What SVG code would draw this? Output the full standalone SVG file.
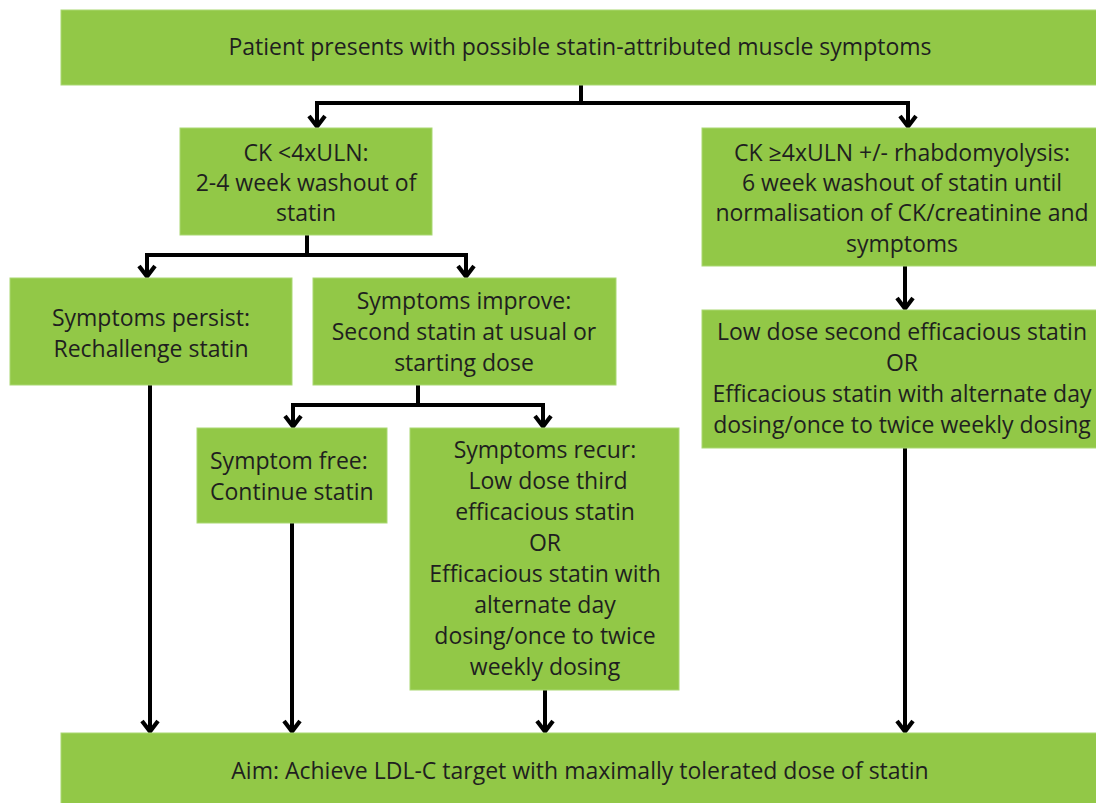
<svg xmlns="http://www.w3.org/2000/svg" width="1096" height="803" viewBox="0 0 1096 803">
<style>
.box{fill:#92C847;stroke:#A9D873;stroke-width:1}
text{font-family:"Open Sans","Noto Sans",sans-serif;font-size:23px;fill:#1f1f1f;text-anchor:middle}
.l{text-anchor:start}
.c{fill:none;stroke:#000;stroke-width:4}
</style>
<defs>
<marker id="ah" viewBox="0 0 16 20" refX="13" refY="10" markerWidth="16" markerHeight="20" markerUnits="userSpaceOnUse" orient="auto" overflow="visible">
<path d="M2,2 L12.5,10 L2,18" fill="none" stroke="#000" stroke-width="4.2" stroke-linejoin="miter"/>
</marker>
</defs>
<rect width="1096" height="803" fill="#fff"/>
<g id="connectors">
<path class="c" d="M581,85 V103"/>
<path class="c" d="M583,103 H317 V127" marker-end="url(#ah)"/>
<path class="c" d="M579,103 H908 V127" marker-end="url(#ah)"/>
<path class="c" d="M307,235 V255"/>
<path class="c" d="M309,255 H147 V277" marker-end="url(#ah)"/>
<path class="c" d="M305,255 H466 V277" marker-end="url(#ah)"/>
<path class="c" d="M418,385 V405"/>
<path class="c" d="M420,405 H293 V427" marker-end="url(#ah)"/>
<path class="c" d="M416,405 H543 V427" marker-end="url(#ah)"/>
<path class="c" d="M905,266 V309" marker-end="url(#ah)"/>
<path class="c" d="M150,385 V732" marker-end="url(#ah)"/>
<path class="c" d="M292,523 V732" marker-end="url(#ah)"/>
<path class="c" d="M545,690 V732" marker-end="url(#ah)"/>
<path class="c" d="M905,448 V732" marker-end="url(#ah)"/>
</g>
<g id="n-start">
<rect class="box" x="61" y="10" width="1040" height="75"/>
<text x="580" y="55">Patient presents with possible statin-attributed muscle symptoms</text>
</g>
<g id="n-ck-low">
<rect class="box" x="180" y="128" width="252" height="107"/>
<text x="306" y="161">CK &lt;4xULN:</text>
<text x="306" y="191">2-4 week washout of</text>
<text x="306" y="221">statin</text>
</g>
<g id="n-ck-high">
<rect class="box" x="702" y="128" width="400" height="138"/>
<text x="902" y="161">CK ≥4xULN +/- rhabdomyolysis:</text>
<text x="902" y="191">6 week washout of statin until</text>
<text x="902" y="221">normalisation of CK/creatinine and</text>
<text x="902" y="252">symptoms</text>
</g>
<g id="n-persist">
<rect class="box" x="10" y="278" width="282" height="107"/>
<text x="151" y="326">Symptoms persist:</text>
<text x="151" y="357">Rechallenge statin</text>
</g>
<g id="n-improve">
<rect class="box" x="313" y="278" width="303" height="107"/>
<text x="464" y="309">Symptoms improve:</text>
<text x="464" y="340">Second statin at usual or</text>
<text x="464" y="371">starting dose</text>
</g>
<g id="n-free">
<rect class="box" x="197" y="428" width="190" height="95"/>
<text class="l" x="210" y="469">Symptom free:</text>
<text class="l" x="210" y="500">Continue statin</text>
</g>
<g id="n-recur">
<rect class="box" x="410" y="428" width="269" height="262"/>
<text x="545" y="458">Symptoms recur:</text>
<text x="548" y="489">Low dose third</text>
<text x="545" y="520">efficacious statin</text>
<text x="545" y="551">OR</text>
<text x="545" y="582">Efficacious statin with</text>
<text x="545" y="613">alternate day</text>
<text x="545" y="644">dosing/once to twice</text>
<text x="545" y="675">weekly dosing</text>
</g>
<g id="n-second">
<rect class="box" x="702" y="310" width="400" height="138"/>
<text x="902" y="340">Low dose second efficacious statin</text>
<text x="902" y="371">OR</text>
<text x="902" y="402">Efficacious statin with alternate day</text>
<text x="902" y="433">dosing/once to twice weekly dosing</text>
</g>
<g id="n-aim">
<rect class="box" x="61" y="733" width="1040" height="75"/>
<text x="580" y="779">Aim: Achieve LDL-C target with maximally tolerated dose of statin</text>
</g>
</svg>
